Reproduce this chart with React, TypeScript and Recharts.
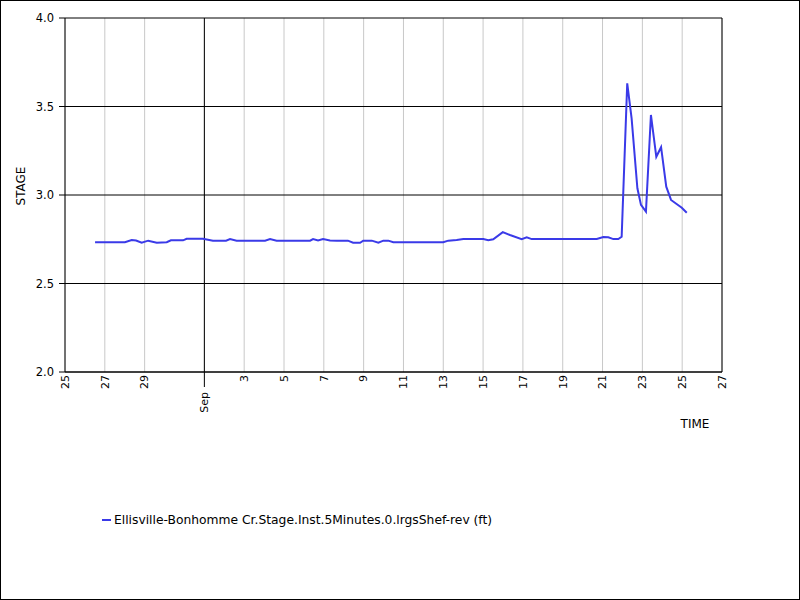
import React from 'react';
import { CartesianGrid, Line, LineChart, ReferenceLine, XAxis, YAxis } from 'recharts';

// days since Aug 25 (0 = Aug 25, 7 = Sep 1)
const days = [
    1.51, 3.01, 3.35, 3.57, 3.85, 4.18, 4.61, 5.11, 5.32, 5.93, 6.11, 6.93, 7.43, 8.09, 8.29, 8.62,
    10.05, 10.3, 10.63, 12.31, 12.46, 12.71, 12.96, 13.31, 13.65, 14.21, 14.47, 14.82, 14.98, 15.41,
    15.74, 15.99, 16.24, 16.49, 19.0, 19.25, 19.67, 20.01, 21.01, 21.26, 21.51, 21.99, 22.35, 22.94,
    23.19, 23.44, 26.71, 27.04, 27.29, 27.54, 27.79, 27.96, 28.24, 28.46, 28.75, 28.93, 29.18, 29.43,
    29.7, 29.94, 30.2, 30.44, 30.72, 30.98, 31.23,
];
const stage = [
    2.733, 2.733, 2.746, 2.743, 2.73, 2.742, 2.73, 2.733, 2.744, 2.744, 2.753, 2.753, 2.742, 2.742, 2.751, 2.742,
    2.742, 2.751, 2.742, 2.742, 2.751, 2.743, 2.751, 2.743, 2.742, 2.742, 2.73, 2.73, 2.742, 2.742,
    2.73, 2.742, 2.742, 2.733, 2.733, 2.742, 2.746, 2.751, 2.751, 2.744, 2.75, 2.79, 2.774, 2.751,
    2.761, 2.751, 2.751, 2.763, 2.761, 2.751, 2.751, 2.764, 3.631, 3.433, 3.038, 2.944, 2.906, 3.452,
    3.216, 3.27, 3.047, 2.972, 2.949, 2.928, 2.9,
];

const xTicks = [0, 2, 4, 7, 9, 11, 13, 15, 17, 19, 21, 23, 25, 27, 29, 31, 33];
const yTicks = [2.0, 2.5, 3.0, 3.5, 4.0];
const seriesName = 'Ellisville-Bonhomme Cr.Stage.Inst.5Minutes.0.lrgsShef-rev (ft)';

const data = days.map((d, i) => ({ day: d, stage: stage[i] }));

const FONT = '"DejaVu Sans", Verdana, sans-serif';
const LINE_COLOR = '#3a3ae8';

// day offset -> label shown on the axis
function dayLabel(d: number): string {
    if (d === 7) return 'Sep';
    if (d < 7) return String(25 + d);
    return String(d - 6);
}

const TimeTick = (props: any) => {
    const x = Number(props.x);
    const y = Number(props.y);
    const value = props.payload.value;
    const isMonth = value === 7;
    const top = isMonth ? y + 20 : y + 3;
    return (
        <g>
            {isMonth && <path d={`M${x},${y}L${x},${y + 15}`} stroke="#000" strokeWidth={1} fill="none" />}
            <text
                x={x}
                y={top}
                transform={`rotate(-90, ${x}, ${top})`}
                textAnchor="end"
                dy="0.35em"
                fontSize={11}
                fontFamily={FONT}
                fill="#000"
            >
                {dayLabel(value)}
            </text>
        </g>
    );
};

export default function App() {
    return (
        <div style={{ position: 'absolute', left: 0, top: 0, width: 800, height: 600, background: '#fff' }}>
            <LineChart
                width={800}
                height={600}
                data={data}
                margin={{ top: 18, right: 78, bottom: 188, left: 5 }}
            >
                <CartesianGrid horizontal={false} vertical stroke="#c8c8c8" strokeWidth={1} />
                <CartesianGrid horizontal vertical={false} stroke="#000" strokeWidth={1} />
                <XAxis
                    dataKey="day"
                    type="number"
                    domain={[0, 33]}
                    ticks={xTicks}
                    interval={0}
                    height={40}
                    tickSize={0}
                    tickMargin={0}
                    tickLine={false}
                    axisLine={{ stroke: '#000' }}
                    tick={<TimeTick />}
                    label={{
                        content: (p: any) => (
                            <text
                                x={p.viewBox.x + p.viewBox.width - 27}
                                y={p.viewBox.y + 56}
                                textAnchor="middle"
                                fontSize={12}
                                fontFamily={FONT}
                                fill="#000"
                            >
                                TIME
                            </text>
                        ),
                    }}
                />
                <YAxis
                    domain={[2, 4]}
                    ticks={yTicks}
                    interval={0}
                    width={60}
                    tickSize={6}
                    tickMargin={5}
                    tickLine={{ stroke: '#000' }}
                    axisLine={{ stroke: '#000' }}
                    tickFormatter={(v: number) => v.toFixed(1)}
                    tick={{ fontSize: 11.5, fontFamily: FONT, fill: '#000' }}
                    label={{
                        content: (p: any) => {
                            const cx = p.viewBox.x + 16;
                            const cy = p.viewBox.y + p.viewBox.height / 2 - 9;
                            return (
                                <text
                                    x={cx}
                                    y={cy}
                                    transform={`rotate(-90, ${cx}, ${cy})`}
                                    textAnchor="middle"
                                    dy="0.35em"
                                    fontSize={12}
                                    fontFamily={FONT}
                                    fill="#000"
                                >
                                    STAGE
                                </text>
                            );
                        },
                    }}
                />
                <ReferenceLine x={7} stroke="#000" strokeWidth={1} />
                <ReferenceLine x={33} stroke="#000" strokeWidth={1} />
                <Line
                    type="linear"
                    dataKey="stage"
                    name={seriesName}
                    stroke={LINE_COLOR}
                    strokeWidth={2}
                    dot={false}
                    isAnimationActive={false}
                />
            </LineChart>
            {/* legend */}
            <div
                style={{
                    position: 'absolute',
                    left: 102,
                    top: 513,
                    display: 'flex',
                    alignItems: 'center',
                    fontFamily: FONT,
                    fontSize: 12.3,
                    color: '#000',
                    whiteSpace: 'nowrap',
                }}
            >
                <span style={{ display: 'inline-block', width: 9, height: 2, background: LINE_COLOR, marginRight: 3 }} />
                <span>{seriesName}</span>
            </div>
            {/* frame */}
            <div
                style={{
                    position: 'absolute',
                    inset: 0,
                    border: '1px solid #000',
                    pointerEvents: 'none',
                }}
            />
        </div>
    );
}
